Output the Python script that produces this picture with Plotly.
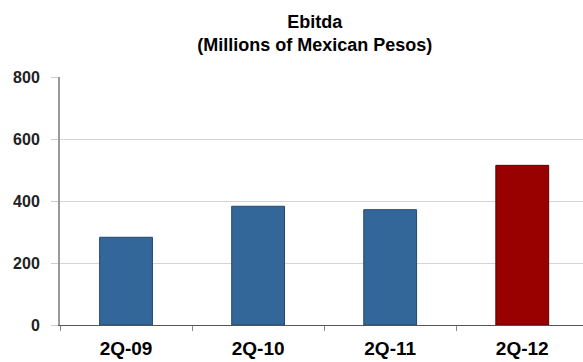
import plotly.graph_objects as go

categories = ["2Q-09", "2Q-10", "2Q-11", "2Q-12"]
ebitda = [283, 383, 372, 515]
bar_colors = ["#336699", "#336699", "#336699", "#990000"]
line_colors = ["#24496f", "#24496f", "#24496f", "#5e0000"]
y_ticks = [0, 200, 400, 600, 800]

fig = go.Figure(
    go.Bar(
        x=categories,
        y=ebitda,
        width=0.4,
        marker=dict(color=bar_colors, line=dict(color=line_colors, width=1)),
        showlegend=False,
    )
)

fig.update_layout(
    width=583,
    height=362,
    margin=dict(l=60, r=0, t=77, b=37),
    paper_bgcolor="white",
    plot_bgcolor="white",
    title=dict(
        text="<b>Ebitda<br>(Millions of Mexican Pesos)</b>",
        x=0.54,
        xanchor="center",
        y=0.924,
        yanchor="middle",
        font=dict(family="Liberation Sans, Arial", size=18, color="#000000"),
    ),
    bargap=0.6,
)

fig.update_xaxes(
    range=[-0.5, 3.46],
    showline=True,
    linecolor="#555555",
    linewidth=1,
    ticks="outside",
    tickson="boundaries",
    ticklen=5,
    tickcolor="#888888",
    tickfont=dict(family="Liberation Sans, Arial", size=19, color="#000000", weight="bold"),
    ticklabelstandoff=6,
    showgrid=False,
)

fig.update_yaxes(
    range=[0, 800],
    tickvals=y_ticks,
    showline=True,
    linecolor="#999999",
    linewidth=2,
    ticks="outside",
    ticklen=7,
    tickcolor="#cccccc",
    showgrid=True,
    gridcolor="#d4d4d4",
    gridwidth=1,
    zeroline=False,
    tickfont=dict(family="Liberation Sans, Arial", size=16, color="#222222", weight="bold"),
    ticklabelstandoff=8,
)

fig.write_html("out.html")
